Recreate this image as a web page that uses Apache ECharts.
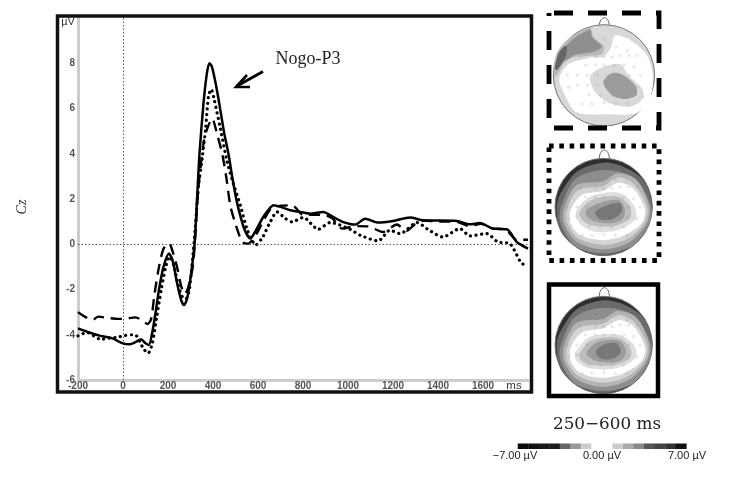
<!DOCTYPE html>
<html><head><meta charset="utf-8">
<style>html,body{margin:0;padding:0;background:#fff}#c{width:729px;height:480px}</style>
<script src="https://cdn.jsdelivr.net/npm/echarts@6/dist/echarts.min.js"></script>
</head><body><div id="c"></div>
<script>
const solidMs=[-200,-150,-100,-50,0,30,60,80,100,115,130,145,160,180,204,220,240,258,271,285,300,318,330,340,357,372,384,395,412,429,450,469,485,500,515,540,566,590,620,645,669,700,744,788,832,890,935,979,1032,1076,1134,1200,1276,1334,1484,1542,1586,1644,1706,1750,1800];
const solidUv=[-3.72,-3.9,-4.05,-4.15,-4.38,-4.42,-4.3,-4.2,-4.38,-4.45,-3.9,-3.0,-2.0,-1.0,-0.41,-0.7,-1.7,-2.45,-2.69,-2.4,-1.5,0,2.17,4,6.15,7.5,8,7.85,7.1,6.15,4.9,3.98,3,2.17,1.5,0.65,0.25,0.6,1.15,1.5,1.72,1.65,1.5,1.43,1.35,1.43,1.2,0.98,0.87,1.13,0.96,1.03,1.18,1.06,1.03,0.88,0.94,0.69,0.66,0.1,-0.19];
const dashMs=[-200,-170,-136,-110,-70,-20,0,56,90,108,125,140,160,180,205,220,240,260,275,290,310,320,336,360,374,396,420,441,460,477,500,530,555,590,625,660,700,752,800,850,890,930,975,1030,1089,1156,1217,1260,1300,1340,1400,1480,1540,1590,1640,1700,1750,1800];
const dashUv=[-3,-3.2,-3.35,-3.2,-3.25,-3.3,-3.3,-3.23,-3.4,-3.53,-3.3,-2.2,-1,-0.2,0.05,-0.3,-1,-1.9,-2.2,-1.9,-1,0.2,2.6,4.6,5.1,5.56,4.8,4,2.9,1.7,0.9,0.1,0.02,0.4,1.06,1.6,1.7,1.72,1.3,1.3,1.3,1.15,0.69,0.8,0.79,0.54,0.87,0.6,0.9,1.05,1,1,0.8,0.9,0.7,0.65,0.2,0.2];
const dotMs=[-200,-160,-130,-100,-60,-20,0,40,60,90,111,130,150,170,190,205,225,245,265,280,295,315,336,352,367,380,392,403,433,463,490,522,550,570,589,620,650,685,720,751,801,868,921,1010,1054,1134,1187,1231,1307,1356,1422,1497,1542,1617,1666,1719,1772,1800];
const dotUv=[-4.05,-3.9,-4.05,-4.2,-4.15,-4.1,-4.05,-4,-4.05,-4.6,-4.82,-4.4,-3.2,-2,-1,-0.55,-0.9,-1.8,-2.35,-2.4,-2,0,2.6,3.8,5.1,6.55,6.85,6.5,5.1,3.64,2.7,1.7,0.7,0.25,-0.04,0.3,0.9,1.43,1.15,0.99,1.18,0.66,0.96,0.66,0.4,0.15,0.62,0.47,0.96,0.65,0.32,0.69,0.37,0.47,0.1,0.03,-0.85,-0.9];
const xTicks=[-200,0,200,400,600,800,1000,1200,1400,1600];
const yTicks=[-6,-4,-2,0,2,4,6,8];
const barColors=['#0c0c0c','#111','#181818','#1c1c1c','#666','#999','#ccc','#fff','#fff','#ccc','#aaa','#888','#555','#444','#333','#111'];
const barWidths=[32,32,31,31,32,31,32,32,31,32,32,31,32,32,31,32];

const pairs=(a,b)=>a.map((v,i)=>[v,b[i]]);
const sansFont='Liberation Sans', serifFont='DejaVu Serif', bookFont='Liberation Serif';
const g=[];
let z=10;
const rect=(x,y,w,h,fill,stroke,lw,dash,off)=>g.push({type:'rect',z:z++,shape:{x,y,width:w,height:h},style:{fill:fill||'none',stroke:stroke||'none',lineWidth:lw||0,lineDash:dash,lineDashOffset:off||0}});
const text=(x,y,t,size,font,fill)=>g.push({type:'text',z:50,x,y,style:{text:t,fontSize:size,fontFamily:font,fill:fill||'#222',align:'center',verticalAlign:'middle'}});

// main frame
rect(57.5,16,474,376,'none','#111',3.5);

// head maps: coordinates are crop coordinates (3x) relative to an origin
function blob(ox,oy,pts,fill){g.push({type:'polygon',z:z++,shape:{points:pts.map(p=>[ox+p[0]/3,oy+p[1]/3]),smooth:0.3},style:{fill}});}
function head(ox,oy,cx,cy,r,fill,layers,nosey){
  g.push({type:'polyline',z:z++,shape:{points:[[178,nosey+27],[181,nosey+10],[193,nosey],[205,nosey+10],[208,nosey+27]].map(p=>[ox+p[0]/3,oy+p[1]/3]),smooth:0.4},style:{stroke:'#666',lineWidth:1,fill:'none'}});
  g.push({type:'circle',z:z++,shape:{cx:ox+cx/3,cy:oy+cy/3,r:r/3},style:{fill,stroke:'#777',lineWidth:1}});
  layers.forEach(l=>blob(ox,oy,l[1],l[0]));
  electrodes.forEach(e=>g.push({type:'circle',z:z++,shape:{cx:ox+(cx+e[0])/3,cy:oy+(cy+e[1])/3,r:1.2},style:{fill:'none',stroke:'rgba(140,140,140,.35)',lineWidth:.7}}));
}
const electrodes=[[-65,-100],[0,-108],[-65,-85],[-35,-85],[35,-85],[70,-75],[-70,-55],[-25,-55],[0,-55],[25,-55],[50,-60],[75,-60],[100,-60],[-55,-30],[-25,-30],[0,-30],[30,-30],[60,-30],[90,-25],[-110,0],[-80,0],[-50,0],[-20,0],[10,0],[40,0],[75,0],[110,0],[-105,35],[-80,30],[-50,30],[-20,30],[10,30],[40,30],[70,30],[100,35],[-45,58],[-10,60],[25,60],[60,60],[-65,85],[-35,85],[0,82],[35,85],[70,85]];

const map1=[
 ['#fff',[[225,92],[270,105],[320,150],[338,210],[330,280],[290,325],[200,328],[110,322],[72,265],[58,220],[85,178],[150,158],[190,155],[212,130]]],
 ['#b8b8b8',[[42,215],[48,150],[85,102],[150,68],[160,95],[192,125],[185,147],[150,152],[100,157],[70,177],[55,205]]],
 ['#8f8f8f',[[62,165],[88,112],[150,74],[157,97],[185,125],[155,142],[105,150],[78,165]]],
 ['#666',[[44,190],[58,140],[80,122],[75,160],[50,196]]],
 ['#d9d9d9',[[150,215],[180,190],[240,178],[265,210],[305,250],[310,280],[270,305],[210,295],[165,260]]],
 ['#9c9c9c',[[190,232],[215,205],[245,208],[285,240],[290,270],[255,282],[215,270]]]
];
const ring=(dy)=>[
 ['#6a6a6a',[[191,347],[295,304],[337,201],[310,120],[250,80],[190,68],[110,95],[62,160],[50,200],[60,270],[100,315]].map(p=>[p[0],p[1]+dy])],
 ['#8d8d8d',[[62,205],[105,118],[190,90],[280,112],[332,195],[328,250],[278,318],[190,340],[105,318],[62,250]].map(p=>[p[0],p[1]+dy])],
 ['#b4b4b4',[[72,205],[110,135],[190,124],[232,100],[290,120],[328,200],[320,250],[270,305],[190,328],[110,305],[72,250]].map(p=>[p[0],p[1]+dy])],
 ['#d5d5d5',[[82,205],[115,150],[190,138],[235,112],[285,135],[322,205],[312,250],[265,295],[190,315],[115,295],[82,250]].map(p=>[p[0],p[1]+dy])],
 ['#fff',[[92,210],[125,165],[190,152],[235,128],[280,145],[315,210],[305,250],[255,285],[190,300],[120,285],[92,250]].map(p=>[p[0],p[1]+dy])]
];
const map2=ring(0).concat([
 ['#dedede',[[108,215],[150,170],[235,158],[278,190],[288,235],[235,270],[165,275],[120,252]]],
 ['#bdbdbd',[[118,218],[155,180],[235,170],[270,200],[270,235],[225,258],[165,258],[132,245]]],
 ['#9b9b9b',[[136,215],[170,192],[235,180],[255,210],[245,240],[200,250],[155,240]]],
 ['#777',[[165,218],[195,198],[240,190],[245,215],[215,238],[180,238]]]
]);
const map3=ring(8).concat([
 ['#dedede',[[105,235],[150,185],[240,180],[285,215],[285,250],[230,280],[150,280],[112,260]]],
 ['#bdbdbd',[[118,238],[155,195],[240,190],[272,222],[270,250],[225,270],[155,270],[125,258]]],
 ['#9b9b9b',[[140,232],[175,200],[240,198],[258,230],[240,258],[190,262],[155,252]]],
 ['#777',[[167,230],[195,207],[230,205],[242,230],[220,250],[185,252]]]
]);
head(540,5,192,211,152,'#d8d8d8',map1,38);
head(540,140,191,201,146,'#2e2e2e',map2,30);
head(540,275,191,210,146,'#2e2e2e',map3,38);

// panel frames
rect(549,13,110,115,'none','#000',4.8,[19,15],29);
rect(549,146,110,114.5,'none','#000',4.8,[4.6,5.7]);
rect(549,284.5,109,111.5,'none','#000',4.5);

// colour bar
let bx=517.7;
barColors.forEach((c,i)=>{const w=barWidths[i]/3;rect(bx,443.5,w+.3,5.5,c);bx+=w;});

// arrow
g.push({type:'polyline',z:60,shape:{points:[[263,71.5],[237,86]]},style:{stroke:'#000',lineWidth:3,fill:'none'}});
g.push({type:'polyline',z:60,shape:{points:[[247,75],[236,87],[250,87]]},style:{stroke:'#000',lineWidth:2.6,fill:'none'}});

// text
text(308,59,'Nogo-P3',18,bookFont);
text(607,425,'250\u2212600 ms',16.8,serifFont);
text(515,456,'\u22127.00 \u00b5V',11,sansFont);
text(602,456,'0.00 \u00b5V',11,sansFont);
text(687,456,'7.00 \u00b5V',11,sansFont);
text(68,22,'\u00b5V',11,sansFont,'#333');
text(514,386,'ms',11.5,sansFont,'#333');
g.push({type:'text',z:50,x:22,y:207,rotation:Math.PI/2,style:{text:'Cz',fontSize:14,fontStyle:'italic',fontFamily:bookFont,fill:'#333',align:'center',verticalAlign:'middle'}});

const chart=echarts.init(document.getElementById('c'),null,{renderer:'canvas'});
const refStyle={color:'#555',type:[1.5,2],width:1};
chart.setOption({
  animation:false,backgroundColor:'#fff',
  grid:{left:78,right:201,top:18,bottom:100,containLabel:false},
  xAxis:{type:'value',min:-200,max:1800,interval:200,splitLine:{show:false},axisTick:{show:false},
    axisLine:{onZero:false,lineStyle:{color:'#ccc',width:3}},
    axisLabel:{margin:1,color:'#555',fontWeight:'bold',fontSize:10,fontFamily:sansFont,
      showMinLabel:true,showMaxLabel:false,hideOverlap:false,
      formatter:v=>xTicks.includes(v)?String(v):''}},
  yAxis:{type:'value',min:-6,max:10,interval:2,splitLine:{show:false},axisTick:{show:false},
    axisLine:{onZero:false,lineStyle:{color:'#ccc',width:3}},
    axisLabel:{margin:3,color:'#555',fontWeight:'bold',fontSize:10,fontFamily:sansFont,
      showMinLabel:true,showMaxLabel:false,
      formatter:v=>yTicks.includes(v)?String(v):''}},
  series:[
    {name:'Dashed',type:'line',data:pairs(dashMs,dashUv),smooth:0.25,showSymbol:false,silent:true,
      lineStyle:{color:'#000',width:2.4,type:[11,7]},z:3,
      markLine:{silent:true,symbol:'none',label:{show:false},lineStyle:refStyle,animation:false,data:[{xAxis:0},{yAxis:0}]}},
    {name:'Dotted',type:'line',data:pairs(dotMs,dotUv),smooth:0.25,showSymbol:false,silent:true,
      lineStyle:{color:'#000',width:3.2,type:[0.1,5.5],cap:'round'},z:4},
    {name:'Solid',type:'line',data:pairs(solidMs,solidUv),smooth:0.25,showSymbol:false,silent:true,
      lineStyle:{color:'#000',width:2.5},z:5}
  ],
  graphic:{elements:g}
});
</script></body></html>
